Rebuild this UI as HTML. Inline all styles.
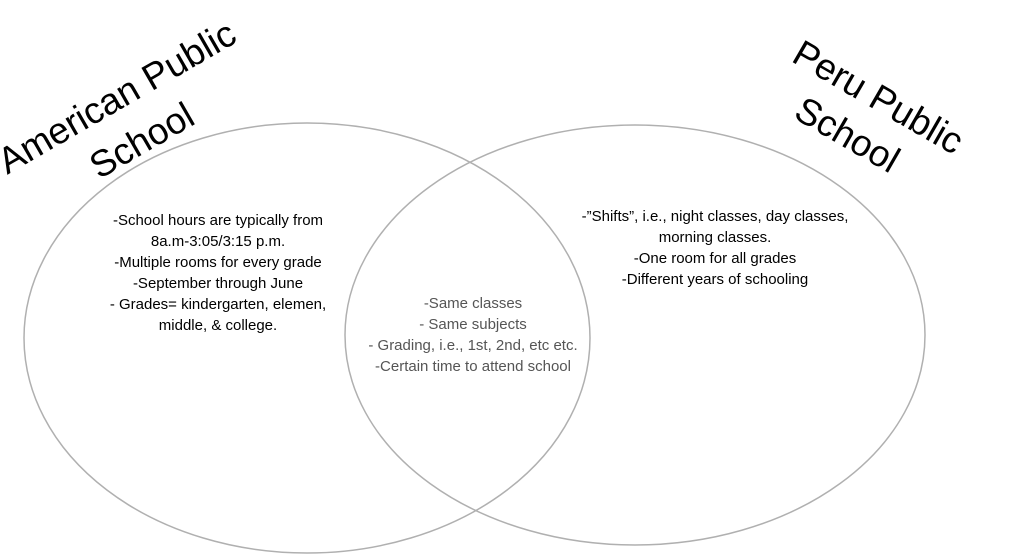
<!DOCTYPE html>
<html><head><style>
html,body{margin:0;padding:0;background:#fff;}
svg{display:block;}
text{font-family:"Liberation Sans",sans-serif;}
</style></head><body>
<svg width="1012" height="558" viewBox="0 0 1012 558">
<ellipse cx="307" cy="338" rx="283" ry="215" fill="none" stroke="#b0b0b0" stroke-width="1.5"/>
<ellipse cx="635" cy="335" rx="290" ry="210" fill="none" stroke="#b0b0b0" stroke-width="1.5"/>
<g transform="translate(123,108) rotate(-30)" font-size="37" text-anchor="middle" fill="#000">
<text x="0" y="0">American Public</text>
<text x="0" y="50">School</text>
</g>
<g transform="translate(872,108) rotate(30)" font-size="37" text-anchor="middle" fill="#000">
<text x="0" y="0">Peru Public</text>
<text x="-8" y="48">School</text>
</g>
<g font-size="15" text-anchor="middle" fill="#000">
<text x="218" y="225">-School hours are typically from</text>
<text x="218" y="246">8a.m-3:05/3:15 p.m.</text>
<text x="218" y="267">-Multiple rooms for every grade</text>
<text x="218" y="288">-September through June</text>
<text x="218" y="309">- Grades= kindergarten, elemen,</text>
<text x="218" y="330">middle, &amp; college.</text>
</g>
<g font-size="15" text-anchor="middle" fill="#555">
<text x="473" y="308">-Same classes</text>
<text x="473" y="329">- Same subjects</text>
<text x="473" y="350">- Grading, i.e., 1st, 2nd, etc etc.</text>
<text x="473" y="371">-Certain time to attend school</text>
</g>
<g font-size="15" text-anchor="middle" fill="#000">
<text x="715" y="221">-”Shifts”, i.e., night classes, day classes,</text>
<text x="715" y="242">morning classes.</text>
<text x="715" y="263">-One room for all grades</text>
<text x="715" y="284">-Different years of schooling</text>
</g>
</svg>
</body></html>
